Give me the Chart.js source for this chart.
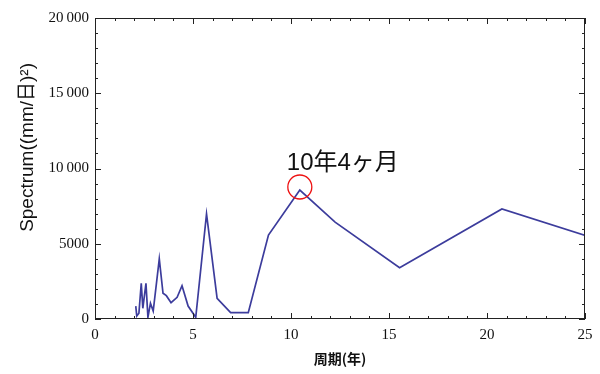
<!DOCTYPE html>
<html>
<head>
<meta charset="utf-8">
<script src="https://cdn.jsdelivr.net/npm/chart.js@4/dist/chart.umd.min.js"></script>
<style>
  html, body { margin: 0; padding: 0; background: #fff; }
  #wrap { width: 600px; height: 374px; }
</style>
</head>
<body>
<div id="wrap"><canvas id="spec"></canvas></div>
<script>
// 周期(年) とスペクトル値
var period = [2.08, 2.13, 2.24, 2.36, 2.44, 2.60, 2.70, 2.83, 2.97, 3.28, 3.47, 3.64, 3.88, 4.19, 4.44, 4.75, 5.14, 5.69, 6.23, 6.92, 7.82, 8.85, 10.45, 12.25, 15.54, 20.76, 25.1];
var spectrum = [860, 200, 380, 2370, 710, 2370, 110, 1040, 530, 3990, 1710, 1550, 1080, 1440, 2210, 860, 110, 6980, 1370, 420, 420, 5580, 8570, 6440, 3410, 7310, 5510];
var xTicks = [0, 5, 10, 15, 20, 25];
var yTicks = [0, 5000, 10000, 15000, 20000];
var peakLabel = "10年4ヶ月";
var peakIndex = 22;
var yTitle = "Spectrum((mm/日)²)";

var serif = "'Liberation Serif', 'DejaVu Serif', serif";
var sans = "'Liberation Sans', 'Noto Sans CJK JP', sans-serif";

function fmt(v) {
  // 1万以上は3桁区切りに細いスペース
  if (v >= 10000) {
    var s = String(v);
    return s.slice(0, s.length - 3) + "\u2009" + s.slice(s.length - 3);
  }
  return String(v);
}

// 枠と内向きの目盛り
var framePlugin = {
  id: "frame",
  afterDatasetsDraw: function (chart) {
    var c = chart.ctx, a = chart.chartArea;
    var xs = chart.scales.x, ys = chart.scales.y;
    c.save();
    c.strokeStyle = "#222";
    c.lineWidth = 1;
    c.strokeRect(a.left + 0.5, a.top + 0.5, a.right - a.left - 1, a.bottom - a.top - 1);
    for (var i = 0; i <= 25; i++) {
      var px = Math.round(xs.getPixelForValue(i)) + 0.5;
      var len = i % 5 === 0 ? 6 : 3;
      c.beginPath();
      c.moveTo(px, a.bottom); c.lineTo(px, a.bottom - len);
      c.moveTo(px, a.top); c.lineTo(px, a.top + len);
      c.stroke();
    }
    for (var j = 0; j <= 20000; j += 1000) {
      var py = Math.round(ys.getPixelForValue(j)) + 0.5;
      var l2 = j % 5000 === 0 ? 6 : 3;
      c.beginPath();
      c.moveTo(a.left, py); c.lineTo(a.left + l2, py);
      c.moveTo(a.right, py); c.lineTo(a.right - l2, py);
      c.stroke();
    }
    // ピークの印
    var p = chart.getDatasetMeta(0).data[peakIndex];
    c.strokeStyle = "#ee1111";
    c.lineWidth = 1.3;
    c.beginPath();
    c.arc(p.x, p.y - 3, 12, 0, Math.PI * 2);
    c.stroke();
    c.fillStyle = "#111";
    c.font = "24px " + sans;
    c.textBaseline = "alphabetic";
    c.fillText(peakLabel, p.x - 13, p.y - 20);
    // 縦軸タイトル (少し上寄り)
    c.translate(28, ys.getPixelForValue(11400));
    c.rotate(-Math.PI / 2);
    c.textAlign = "center";
    c.textBaseline = "middle";
    c.font = "19px " + sans;
    c.fillText(yTitle, 0, 0);
    c.restore();
  }
};

var ctx = document.getElementById("spec");
var chart = new Chart(ctx, {
  type: "line",
  data: {
    labels: period,
    datasets: [{
      data: period.map(function (x, i) { return { x: x, y: spectrum[i] }; }),
      borderColor: "#3c3c9c",
      borderWidth: 1.7,
      pointRadius: 0,
      tension: 0,
      fill: false
    }]
  },
  options: {
    responsive: true,
    maintainAspectRatio: false,
    animation: false,
    layout: { padding: { top: 18, right: 15, left: 0, bottom: 0 } },
    plugins: { legend: { display: false }, tooltip: { enabled: false } },
    scales: {
      x: {
        type: "linear",
        min: 0, max: 25,
        afterBuildTicks: function (s) { s.ticks = xTicks.map(function (v) { return { value: v }; }); },
        afterFit: function (s) { s.height = 55; },
        grid: { display: false, drawTicks: false },
        border: { display: false },
        ticks: { color: "#111", font: { family: serif, size: 15 }, padding: 7, maxRotation: 0 },
        title: { display: true, text: "周期(年)", color: "#111", font: { family: "'Noto Sans CJK JP', sans-serif", size: 14, weight: "bold" }, padding: { top: 0, bottom: 7 } }
      },
      y: {
        min: 0, max: 20000,
        afterBuildTicks: function (s) { s.ticks = yTicks.map(function (v) { return { value: v }; }); },
        afterFit: function (s) { s.width = 95; },
        grid: { display: false, drawTicks: false },
        border: { display: false },
        ticks: { color: "#111", font: { family: serif, size: 15 }, padding: 6, callback: function (v) { return fmt(v); } },
        title: { display: false }
      }
    }
  },
  plugins: [framePlugin]
});
</script>
</body>
</html>
